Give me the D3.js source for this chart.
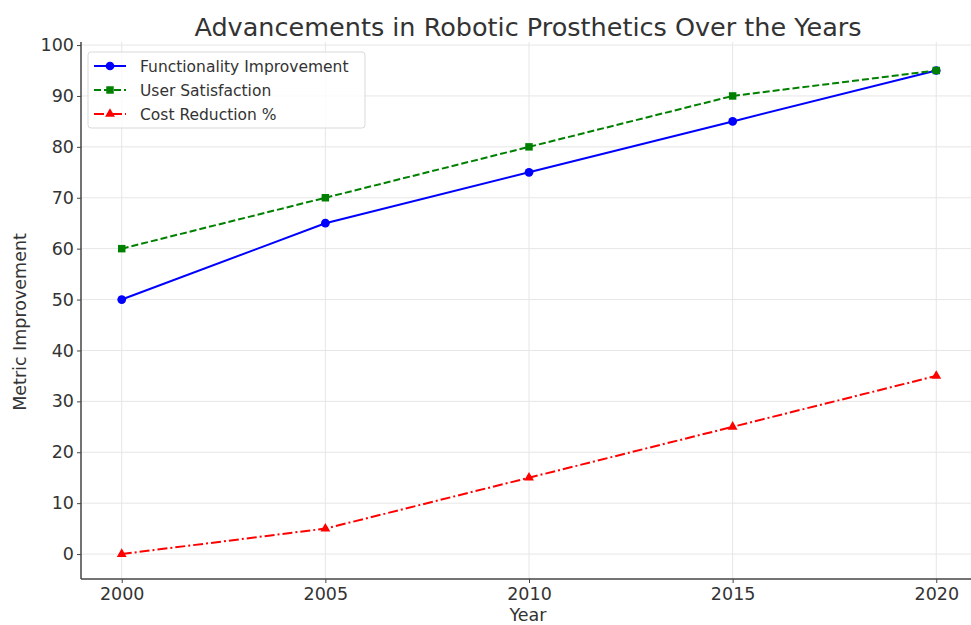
<!DOCTYPE html>
<html>
<head>
<meta charset="utf-8">
<script src="https://cdn.jsdelivr.net/npm/d3@7"></script>
<style>
  body { margin: 0; background: #fff; }
  text { font-family: "DejaVu Sans", sans-serif; fill: #333; }
</style>
</head>
<body>
<div id="chart"></div>
<script>
// Data
const years = [2000, 2005, 2010, 2015, 2020];
const functionality = [50, 65, 75, 85, 95];
const satisfaction = [60, 70, 80, 90, 95];
const costReduction = [0, 5, 15, 25, 35];
const yTicks = [0, 10, 20, 30, 40, 50, 60, 70, 80, 90, 100];
const seriesNames = ['Functionality Improvement', 'User Satisfaction', 'Cost Reduction %'];

const width = 971, height = 625;

const svg = d3.select('#chart').append('svg')
  .attr('width', width)
  .attr('height', height);

// x runs a little past the right edge like the original crop
const xScale = d3.scaleLinear().domain([1999, 2021]).range([81, 977]);
const yScale = d3.scaleLinear().domain([-4.9, 100.6]).range([579, 42]);

const series = [
  {name: seriesNames[0], values: functionality, color: '#0000ff', dash: null, marker: 'circle'},
  {name: seriesNames[1], values: satisfaction, color: '#008000', dash: '7,3', marker: 'square'},
  {name: seriesNames[2], values: costReduction, color: '#ff0000', dash: '10,3,2,3', marker: 'triangle'}
];

const chart = svg.append('g');

// grid lines
chart.append('g').selectAll('line')
  .data(years)
  .join('line')
  .attr('x1', d => xScale(d)).attr('x2', d => xScale(d))
  .attr('y1', 42).attr('y2', 579)
  .attr('stroke', '#e6e6e6').attr('stroke-width', 1);

chart.append('g').selectAll('line')
  .data(yTicks)
  .join('line')
  .attr('x1', 81).attr('x2', width)
  .attr('y1', d => yScale(d)).attr('y2', d => yScale(d))
  .attr('stroke', '#e6e6e6').attr('stroke-width', 1);

// axes
const xAxis = d3.axisBottom(xScale).tickValues(years).tickFormat(d3.format('d')).tickSize(4).tickPadding(5);
const yAxis = d3.axisLeft(yScale).tickValues(yTicks).tickSize(4).tickPadding(3);

const xAxisG = svg.append('g').attr('transform', 'translate(0,579)').call(xAxis);
const yAxisG = svg.append('g').attr('transform', 'translate(81,0)').call(yAxis);

[xAxisG, yAxisG].forEach(g => {
  g.select('.domain').remove();
  g.selectAll('.tick line').attr('stroke', '#444');
  g.selectAll('.tick text').style('font-size', '17.5px').attr('fill', '#333');
});

// spines
svg.append('line').attr('x1', 81).attr('x2', 81).attr('y1', 42).attr('y2', 579)
  .attr('stroke', '#444').attr('stroke-width', 1.5);
svg.append('line').attr('x1', 81).attr('x2', width).attr('y1', 579).attr('y2', 579)
  .attr('stroke', '#444').attr('stroke-width', 1.5);

// lines
const lineGen = d3.line()
  .x((d, i) => xScale(years[i]))
  .y(d => yScale(d));

const symbolFor = m => m === 'circle' ? d3.symbolCircle : (m === 'square' ? d3.symbolSquare : d3.symbolTriangle);
const symbolSize = m => m === 'circle' ? 60 : (m === 'square' ? 56 : 42);

series.forEach(s => {
  chart.append('path')
    .datum(s.values)
    .attr('fill', 'none')
    .attr('stroke', s.color)
    .attr('stroke-width', 2)
    .attr('stroke-dasharray', s.dash)
    .attr('d', lineGen);

  chart.selectAll(null)
    .data(s.values)
    .join('path')
    .attr('transform', (d, i) => `translate(${xScale(years[i])},${yScale(d)})`)
    .attr('d', d3.symbol().type(symbolFor(s.marker)).size(symbolSize(s.marker)))
    .attr('fill', s.color);
});

// title and axis labels
svg.append('text')
  .attr('x', 528).attr('y', 36)
  .attr('text-anchor', 'middle')
  .style('font-size', '25.5px')
  .text('Advancements in Robotic Prosthetics Over the Years');

svg.append('text')
  .attr('x', 528).attr('y', 621)
  .attr('text-anchor', 'middle')
  .style('font-size', '17.5px')
  .text('Year');

svg.append('text')
  .attr('transform', 'translate(26,322) rotate(-90)')
  .attr('text-anchor', 'middle')
  .style('font-size', '17.5px')
  .text('Metric Improvement');

// legend
const legend = svg.append('g').attr('transform', 'translate(88,52)');
legend.append('rect')
  .attr('width', 277).attr('height', 76)
  .attr('rx', 3)
  .attr('fill', '#fff').attr('fill-opacity', 0.8)
  .attr('stroke', '#d9d9d9');

series.forEach((s, i) => {
  const row = legend.append('g').attr('transform', `translate(0,${14 + i * 24})`);
  row.append('line')
    .attr('x1', 6).attr('x2', 38).attr('y1', 0).attr('y2', 0)
    .attr('stroke', s.color).attr('stroke-width', 2)
    .attr('stroke-dasharray', s.dash);
  row.append('path')
    .attr('transform', 'translate(22,0)')
    .attr('d', d3.symbol().type(symbolFor(s.marker)).size(symbolSize(s.marker)))
    .attr('fill', s.color);
  row.append('text')
    .attr('x', 52).attr('y', 5.5)
    .style('font-size', '15.5px')
    .text(s.name);
});
</script>
</body>
</html>
